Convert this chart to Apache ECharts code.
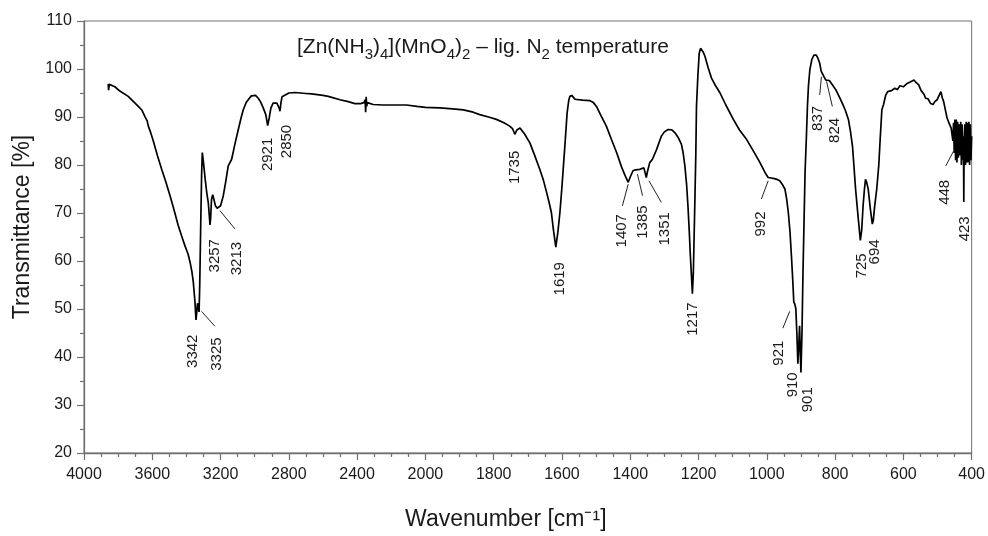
<!DOCTYPE html>
<html>
<head>
<meta charset="utf-8">
<script src="https://cdn.jsdelivr.net/npm/echarts@6/dist/echarts.min.js"></script>
<style>
html,body{margin:0;padding:0;background:#fff;}
#chart{width:988px;height:536px;}
</style>
</head>
<body>
<div id="chart"></div>
<script>
// ---- Data ----
const xTickLabels = ['4000','3600','3200','2800','2400','2000','1800','1600','1400','1200','1000','800','600','400'];

const wavenumbers = [3858,3856,3852,3819,3790,3741,3710,3682,3660,3643,3630,3623,3610,3594,3570,3545,3520,3496,3470,3448,3428,3409,3390,3379,3368,3360,3350,3344,3339,3335,3331,3326,3322,3316,3311,3307,3300,3290,3280,3272,3266,3262,3258,3253,3246,3240,3230,3220,3213,3200,3184,3170,3155,3135,3115,3096,3080,3067,3050,3038,3020,3009,2995,2979,2965,2950,2935,2924,2915,2905,2892,2882,2870,2862,2856,2852,2846,2840,2833,2800,2764,2700,2667,2600,2569,2500,2452,2413,2380,2360,2353,2350,2347,2344,2340,2330,2306,2250,2200,2111,2050,2000,1958,1920,1889,1860,1841,1815,1792,1770,1753,1745,1738,1732,1723,1710,1694,1680,1665,1655,1645,1638,1631,1625,1618,1612,1606,1600,1595,1590,1585,1580,1577,1571,1567,1562,1558,1540,1518,1508,1499,1485,1470,1455,1440,1425,1415,1406,1400,1392,1385,1372,1360,1357,1353,1350,1343,1335,1323,1309,1300,1289,1278,1269,1260,1250,1245,1240,1235,1231,1227,1224,1220,1218,1215,1211,1208,1206,1202,1198,1194,1191,1186,1181,1172,1162,1150,1137,1120,1098,1080,1059,1040,1020,1005,996,988,981,970,962,955,947,942,937,932,928,924,921,918,915,912,909,906,904,902,900,897,894,891,888,884,881,878,874,868,862,855,850,845,841,837,832,827,822,817,808,798,789,779,770,761,755,749,745,740,733,726,722,718,714,711,708,703,697,691,688,684,678,672,668,665,663,658,652,646,635,625,618,610,600,589,580,575,569,563,555,548,540,535,528,520,513,508,501,496,490,486,482,477,472,465,460,457,455,453,451,449,447,445,443,441,439,437,434,432,430,428,426,424,423,422,420,418,416,414,412,410,408,406,404,402,400];

const transmittance = [96.9,95.6,96.8,96.3,95.4,94.3,93.2,92.2,91.4,90.1,89.2,88.1,86.8,85.0,82.0,79.1,76.4,73.6,70.3,67.4,65.2,63.2,61.4,59.8,57.8,55.7,51.5,47.7,49.5,51.2,50.6,49.4,55.0,68.0,78.0,82.6,80.5,77.0,74.0,72.2,69.5,67.5,69.0,72.8,73.8,73.0,71.5,71.0,70.6,71.5,73.6,76.5,79.8,81.2,84.5,87.4,89.8,91.5,93.0,93.6,94.4,94.6,94.5,93.9,93.1,91.9,90.5,88.2,89.8,91.9,92.9,93.1,92.9,92.6,91.8,91.2,93.0,94.2,94.6,95.0,95.1,94.9,94.8,94.5,94.3,93.6,93.2,92.8,92.8,93.0,93.6,91.0,94.2,92.2,93.0,92.6,92.6,92.5,92.5,92.5,92.2,92.0,91.9,91.7,91.5,91.0,90.5,90.0,89.5,88.8,88.1,87.6,86.4,87.3,87.7,86.5,84.6,82.0,79.1,77.0,74.3,72.3,70.1,66.5,62.9,66.0,70.1,75.5,80.5,85.5,90.8,93.5,94.3,94.5,94.4,93.7,93.6,93.5,93.4,93.0,92.2,90.2,88.1,85.3,82.6,79.5,77.8,76.4,77.5,78.8,79.0,79.1,79.4,79.5,77.4,78.5,80.5,81.2,83.2,86.0,86.9,87.4,87.3,86.7,85.8,84.3,82.5,79.8,76.0,71.5,66.0,61.2,56.0,53.2,58.0,71.5,82.0,92.2,98.5,103.3,104.3,104.2,103.5,102.6,100.3,98.1,96.5,95.0,92.5,89.5,87.3,85.3,83.0,80.5,78.4,77.4,77.3,77.2,77.0,76.7,76.0,75.0,73.0,70.1,66.0,61.2,56.0,51.5,51.0,50.1,45.0,38.6,43.0,46.5,41.0,36.8,45.0,57.7,68.0,78.4,86.0,92.2,96.5,99.8,102.0,102.9,102.9,102.2,101.2,99.6,99.3,98.3,97.7,98.0,97.6,96.7,95.7,94.4,92.9,91.4,89.5,87.0,83.9,80.0,75.0,69.5,64.3,66.5,71.5,75.0,77.0,76.5,75.0,71.0,67.7,68.5,71.5,75.0,80.0,85.3,89.0,91.5,92.6,94.5,95.3,95.5,96.0,95.7,96.5,96.3,97.0,97.3,96.9,97.7,97.2,96.7,95.5,94.8,93.9,93.8,92.8,92.6,93.2,93.6,94.0,95.3,94.0,93.2,91.5,89.8,88.5,87.7,87.5,85.0,88.8,82.5,89.5,81.0,89.5,80.5,89.0,81.5,88.5,82.0,89.0,80.0,88.5,81.0,86.0,72.3,85.0,88.5,80.0,89.0,80.5,88.8,80.5,89.0,80.0,88.5,81.0,86.0];

// Peak annotations: label text, label centre (wavenumber, %T)
const peakLabels = ['3342','3325','3257','3213','2921','2850','1735','1619','1407','1385','1351','1217','992','921','910','901','837','824','725','694','448','423'];
const labelWn = [3362,3221,3233,3106,2924,2813,1738,1606,1426,1364,1299,1216,1016,965,923,879,850,801,723,684,479,420];
const labelT = [41.2,40.6,61.1,60.5,82.2,84.9,79.5,56.3,66.3,68.1,66.7,47.9,67.7,40.8,34.2,31.1,89.7,87.2,59.0,61.9,74.3,66.7];

// Leader lines: [wn1, T1, wn2, T2]
const leaderLines = [
  [3311,49.5,3233,46.4],
  [3204,70.5,3116,66.7],
  [1406,76.0,1423,71.5],
  [1379,78.1,1364,73.6],
  [1345,76.7,1309,72.2],
  [996,76.7,1016,72.9],
  [933,49.5,953,46.0],
  [840,98.4,845,94.6],
  [825,97.4,808,92.2],
  [453,82.9,476,79.8]
];

// Piecewise wavenumber scale (2x expansion below 2000 cm-1)
function toU(w){ return w >= 2000 ? (4000 - w) / 400 : 5 + (2000 - w) / 200; }

const lineData = wavenumbers.map((w,i)=>[toU(w), transmittance[i]]);
const labelData = labelWn.map((w,i)=>[toU(w), labelT[i]]);
const leaderData = leaderLines.map(l=>[toU(l[0]), l[1], toU(l[2]), l[3]]);

const FONT = '"Liberation Sans", Arial, Helvetica, sans-serif';
const AXIS_COLOR = '#707070';
const TEXT_COLOR = '#1a1a1a';

const chart = echarts.init(document.getElementById('chart'), null, {renderer:'canvas'});
chart.setOption({
  animation: false,
  backgroundColor: '#fff',
  title: {
    text: '{n|[Zn(NH}{s|3}{n|)}{s|4}{n|](MnO}{s|4}{n|)}{s|2}{n| \u2013 lig. N}{s|2}{n| temperature}',
    left: 297, top: 32, padding: 0,
    textStyle: {
      fontWeight: 'normal',
      rich: {
        n: {fontFamily: FONT, fontSize: 21, fontWeight: 'normal', color: TEXT_COLOR, lineHeight: 30, verticalAlign: 'middle'},
        s: {fontFamily: FONT, fontSize: 15, fontWeight: 'normal', color: TEXT_COLOR, lineHeight: 16, verticalAlign: 'bottom'}
      }
    }
  },
  grid: {left: 84, right: 16, top: 21, bottom: 80, show: true, borderColor: AXIS_COLOR, borderWidth: 1, backgroundColor: 'transparent'},
  xAxis: {
    type: 'value', min: 0, max: 13, interval: 1,
    name: 'Wavenumber [cm\u207B\u00B9]',
    nameLocation: 'middle', nameGap: 55,
    nameTextStyle: {fontFamily: FONT, fontSize: 23, color: TEXT_COLOR, padding: [0, 44, 0, 0]},
    axisLine: {show: true, onZero: false, lineStyle: {color: AXIS_COLOR, width: 1.3}},
    axisTick: {show: true, length: 7, lineStyle: {color: AXIS_COLOR, width: 1.2}},
    minorTick: {show: true, splitNumber: 4, length: 4, lineStyle: {color: AXIS_COLOR, width: 1.2}},
    splitLine: {show: false},
    axisLabel: {
      fontFamily: FONT, fontSize: 16, color: TEXT_COLOR, margin: 14,
      formatter: v => xTickLabels[Math.round(v)] || ''
    }
  },
  yAxis: {
    type: 'value', min: 20, max: 110, interval: 10,
    name: 'Transmittance [%]',
    nameLocation: 'middle', nameGap: 49,
    nameTextStyle: {fontFamily: FONT, fontSize: 23, color: TEXT_COLOR, padding: [0, 0, 0, 20]},
    axisLine: {show: true, onZero: false, lineStyle: {color: AXIS_COLOR, width: 1.3}},
    axisTick: {show: true, length: 7, lineStyle: {color: AXIS_COLOR, width: 1.2}},
    minorTick: {show: true, splitNumber: 2, length: 4, lineStyle: {color: AXIS_COLOR, width: 1.2}},
    splitLine: {show: false},
    axisLabel: {fontFamily: FONT, fontSize: 16, color: TEXT_COLOR, margin: 12}
  },
  series: [
    {
      type: 'line', data: lineData, showSymbol: false, symbol: 'none',
      lineStyle: {color: '#000', width: 1.7}, z: 3, silent: true
    },
    {
      type: 'custom', data: labelData, z: 4, silent: true,
      renderItem: function(params, api){
        const p = api.coord([api.value(0), api.value(1)]);
        return {
          type: 'text', x: p[0], y: p[1], rotation: Math.PI/2,
          style: {text: peakLabels[params.dataIndex], fontFamily: FONT, fontSize: 15, fill: TEXT_COLOR, align: 'center', verticalAlign: 'middle'}
        };
      }
    },
    {
      type: 'custom', data: leaderData, z: 4, silent: true,
      renderItem: function(params, api){
        const a = api.coord([api.value(0), api.value(1)]);
        const b = api.coord([api.value(2), api.value(3)]);
        return {
          type: 'line', shape: {x1: a[0], y1: a[1], x2: b[0], y2: b[1]},
          style: {stroke: '#222', lineWidth: 1}
        };
      }
    }
  ]
});
</script>
</body>
</html>
